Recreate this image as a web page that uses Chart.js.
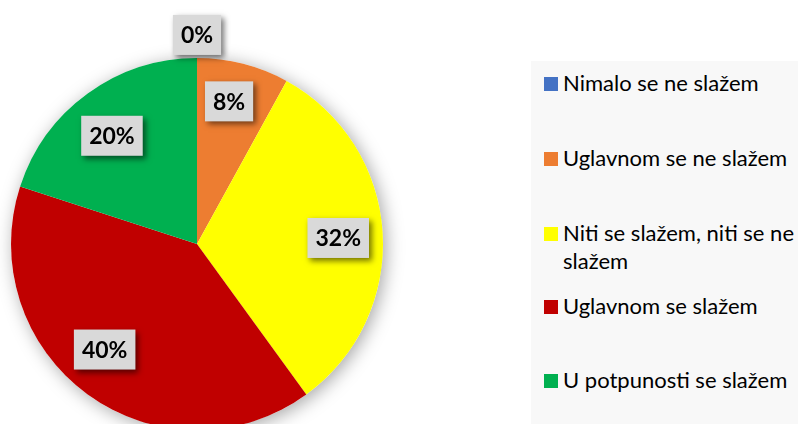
<!DOCTYPE html>
<html>
<head>
<meta charset="utf-8">
<script src="https://cdn.jsdelivr.net/npm/chart.js@4/dist/chart.umd.min.js"></script>
<style>
  html, body { margin: 0; padding: 0; background: #ffffff; }
  #wrap { position: relative; width: 798px; height: 424px; overflow: hidden; }
  #pie { position: absolute; left: 0; top: 0; }
  #legend {
    position: absolute; left: 531px; top: 61px; width: 267px; height: 363px;
    background: #f8f8f8; font-family: Lato, "Open Sans", sans-serif; font-size: 22px; color: #000;
  }
  .item { position: absolute; left: 13px; width: 262px; display: flex; align-items: flex-start; line-height: 28px; }
  .sw { width: 14px; height: 14px; flex: none; margin-top: 8px; margin-right: 5px; }
  .txt { max-width: 238px; }
</style>
</head>
<body>
<div id="wrap">
  <canvas id="pie" width="798" height="424"></canvas>
  <div id="legend"></div>
</div>
<script>
// Data
const categories = ['Nimalo se ne slažem', 'Uglavnom se ne slažem', 'Niti se slažem, niti se ne slažem', 'Uglavnom se slažem', 'U potpunosti se slažem'];
const percentages = [0, 8, 32, 40, 20];
const sliceColors = ['#4472C4', '#ED7D31', '#FFFF00', '#C00000', '#00B050'];

// where each label sits: fraction along the slice angle, fraction of radius
const labelAngleFrac = [0.5, 0.44, 0.51, 0.536, 0.47];
const labelRadiusFrac = [1.124, 0.786, 0.76, 0.754, 0.74];

// Build legend
const legend = document.getElementById('legend');
const legendTops = [8, 83, 158, 231, 305];
categories.forEach((name, i) => {
    let item = document.createElement('div');
    item.className = 'item';
    item.style.top = legendTops[i] + 'px';
    item.innerHTML = '<span class="sw" style="background:' + sliceColors[i] + '"></span><span class="txt">' + name + '</span>';
    legend.appendChild(item);
});

// Soft shadow under the pie
const pieShadow = {
    id: 'pieShadow',
    beforeDatasetsDraw(chart) {
        const arc = chart.getDatasetMeta(0).data[0];
        if (!arc) return;
        const ctx = chart.ctx;
        ctx.save();
        ctx.shadowColor = 'rgba(0,0,0,0.35)';
        ctx.shadowBlur = 18;
        ctx.shadowOffsetX = 3;
        ctx.shadowOffsetY = 3;
        ctx.fillStyle = '#ffffff';
        ctx.beginPath();
        ctx.arc(arc.x, arc.y, arc.outerRadius, 0, Math.PI * 2);
        ctx.fill();
        ctx.restore();
    }
};

// Grey boxed percentage labels
const boxLabels = {
    id: 'boxLabels',
    afterDatasetsDraw(chart) {
        const ctx = chart.ctx;
        const meta = chart.getDatasetMeta(0);
        ctx.save();
        ctx.font = 'bold 23px Lato, "Open Sans", sans-serif';
        ctx.textAlign = 'center';
        ctx.textBaseline = 'middle';
        meta.data.forEach((arc, i) => {
            const a = arc.startAngle + (arc.endAngle - arc.startAngle) * labelAngleFrac[i];
            const r = arc.outerRadius * labelRadiusFrac[i];
            const x = arc.x + Math.cos(a) * r;
            const y = arc.y + Math.sin(a) * r;
            const text = percentages[i] + '%';
            const w = ctx.measureText(text).width + 16;
            const h = 40;
            ctx.save();
            ctx.shadowColor = 'rgba(0,0,0,0.55)';
            ctx.shadowBlur = 6;
            ctx.shadowOffsetX = 3;
            ctx.shadowOffsetY = 3;
            ctx.fillStyle = '#d9d9d9';
            ctx.fillRect(x - w / 2, y - h / 2, w, h);
            ctx.restore();
            ctx.fillStyle = '#000000';
            ctx.fillText(text, x, y + 1);
        });
        ctx.restore();
    }
};

new Chart(document.getElementById('pie').getContext('2d'), {
    type: 'pie',
    data: {
        labels: categories,
        datasets: [{
            data: percentages,
            backgroundColor: sliceColors,
            borderWidth: 0,
            radius: 186,
            clip: false
        }]
    },
    options: {
        responsive: false,
        animation: false,
        layout: { padding: { left: 0, right: 404, top: 64, bottom: 0 } },
        plugins: {
            legend: { display: false },
            tooltip: { enabled: false }
        }
    },
    plugins: [pieShadow, boxLabels]
});
</script>
</body>
</html>
